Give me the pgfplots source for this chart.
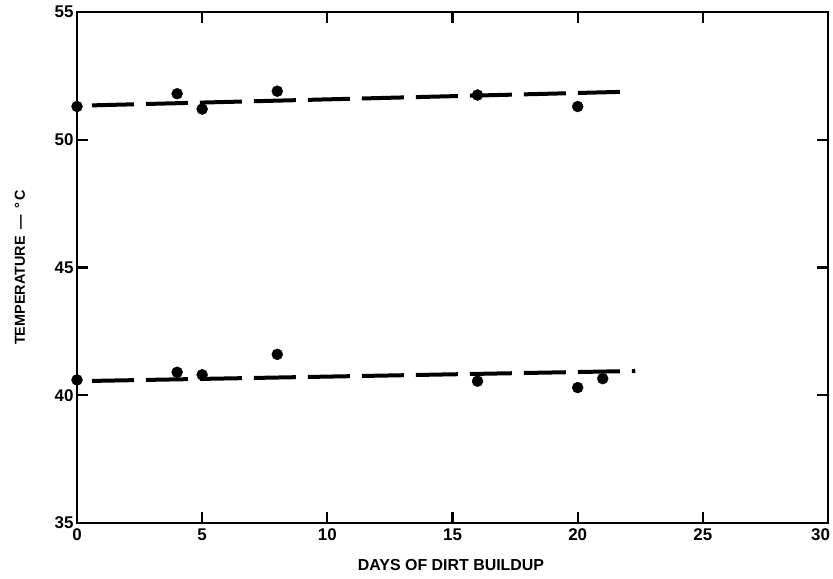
\documentclass[border=0pt]{standalone}
\usepackage{fontspec}
\setmainfont{Liberation Sans}
\usepackage{pgfplots}
\pgfplotsset{compat=1.18}

\begin{document}
\begin{tikzpicture}[x=1bp, y=1bp]
\useasboundingbox (0,0) rectangle (833,579);
\begin{axis}[
  at={(77bp,56bp)}, anchor=south west,
  scale only axis, width=751bp, height=511bp,
  xmin=0, xmax=30, ymin=35, ymax=55,
  xtick={0,5,...,30}, ytick={35,40,...,55},
  xticklabels={0,5,10,15,20,25,\hspace*{-15bp}30},
  yticklabels={35,40,45,50,55},
  tick align=inside,
  major tick length=11bp,
  axis line style={line width=2.6bp},
  tick style={line width=2.2bp, black},
  xticklabel style={font=\bfseries\fontsize{17}{17}\selectfont, yshift=-2bp},
  yticklabel style={font=\bfseries\fontsize{17}{17}\selectfont},
  xlabel={DAYS OF DIRT BUILDUP},
  ylabel={TEMPERATURE \,---\, °\,C},
  xlabel style={font=\bfseries\fontsize{16}{16}\selectfont,
    at={(axis description cs:0.498,-0.082)}, anchor=center},
  ylabel style={font=\bfseries\fontsize{14.5}{14.5}\selectfont,
    at={(axis description cs:-0.076,0.5)}, anchor=center, rotate=0},
  clip=false,
]
% dashed fit lines
\addplot[black, line width=4bp, dash pattern=on 42bp off 12bp, dash phase=39bp]
  coordinates {(0,51.33) (22,51.88)};
\addplot[black, line width=4bp, dash pattern=on 42bp off 12bp, dash phase=39bp]
  coordinates {(0,40.55) (22.3,40.95)};
% measured points
\addplot[only marks, mark=*, mark size=5.5bp, black]
  coordinates {(0,51.3) (4,51.8) (5,51.2) (8,51.9) (16,51.75) (20,51.3)};
\addplot[only marks, mark=*, mark size=5.5bp, black]
  coordinates {(0,40.6) (4,40.9) (5,40.8) (8,41.6) (16,40.55) (20,40.3) (21,40.65)};
\end{axis}
\end{tikzpicture}
\end{document}
